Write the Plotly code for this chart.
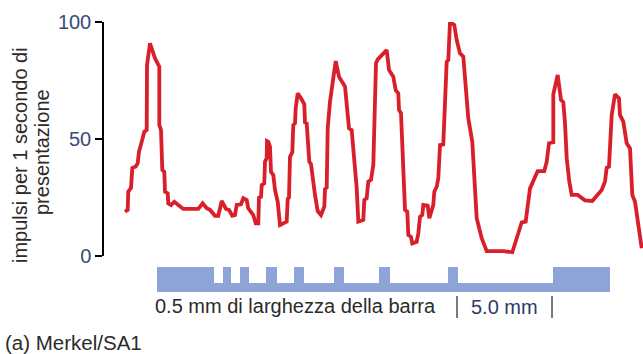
import plotly.graph_objects as go

# Firing rate of a Merkel/SA1 afferent as a grating is scanned across the skin
pos_mm = [
    -1.684, -1.542, -1.511, -1.368, -1.300, -1.121, -1.016, -0.947, -0.805, -0.668,
    -0.542, -0.526, -0.368, -0.105, 0.121, 0.121, 0.211, 0.279, 0.384, 0.421,
    0.563, 0.595, 0.737, 0.911, 1.121, 1.384, 2.174, 2.405, 2.616, 2.789,
    3.053, 3.226, 3.405, 3.632, 3.789, 3.963, 4.105, 4.195, 4.421, 4.542,
    4.721, 4.805, 5.068, 5.195, 5.332, 5.368, 5.474, 5.511, 5.647, 5.684,
    5.774, 5.789, 5.858, 5.947, 6.000, 6.121, 6.211, 6.353, 6.474, 6.826,
    6.879, 6.947, 7.000, 7.121, 7.174, 7.263, 7.300, 7.405, 7.579, 7.753,
    7.789, 7.879, 8.016, 8.105, 8.316, 8.458, 8.632, 8.805, 8.842, 8.932,
    8.984, 9.105, 9.405, 9.579, 9.895, 10.105, 10.247, 10.511, 10.595, 10.858,
    10.911, 11.037, 11.121, 11.263, 11.384, 11.526, 11.616, 12.089, 12.211, 12.437,
    12.563, 12.700, 12.737, 12.842, 13.053, 13.174, 13.226, 13.368, 13.437, 13.668,
    13.753, 13.842, 13.963, 14.016, 14.247, 14.332, 14.542, 14.595, 14.721, 14.805,
    14.895, 15.068, 15.247, 15.332, 15.421, 15.647, 15.774, 15.947, 16.121, 16.300,
    16.384, 16.595, 16.826, 17.089, 17.353, 18.226, 18.700, 19.195, 19.405, 19.632,
    20.037, 20.384, 20.511, 20.632, 20.858, 20.858, 21.089, 21.263, 21.384, 21.474,
    21.563, 21.700, 21.826, 22.142, 22.526, 22.911, 23.405, 23.579, 23.668, 23.789,
    23.932, 24.105, 24.316, 24.368, 24.542, 24.721, 24.895, 25.016, 25.158, 25.511,
]
rate = [
    18.9, 19.7, 27.5, 29.1, 37.6, 38.2, 39.7, 44.6, 48.8, 53.1,
    53.8, 81.6, 90.9, 84.5, 80.9, 56.0, 53.8, 36.8, 36.0, 27.5,
    26.8, 22.5, 21.8, 23.2, 21.8, 20.1, 20.1, 22.5, 20.4, 19.7,
    17.2, 17.2, 23.5, 20.1, 19.7, 17.2, 17.5, 21.8, 22.1, 24.7,
    23.9, 20.4, 17.5, 14.0, 14.0, 24.9, 25.3, 30.3, 31.1, 40.3,
    41.8, 49.1, 48.8, 46.7, 36.0, 34.6, 28.2, 23.2, 13.2, 14.7,
    24.4, 24.9, 42.4, 44.3, 56.0, 56.7, 63.1, 69.5, 67.4, 64.8,
    57.1, 56.7, 40.3, 39.2, 26.1, 19.2, 17.5, 21.1, 28.6, 29.2,
    54.6, 65.9, 83.3, 76.6, 72.4, 54.6, 53.8, 28.9, 14.7, 15.4,
    23.9, 24.7, 31.8, 32.5, 38.9, 82.4, 84.0, 88.0, 79.5, 76.6,
    70.9, 69.5, 62.4, 61.0, 19.7, 18.9, 9.0, 8.2, 5.4, 6.1,
    9.7, 16.8, 17.5, 21.8, 21.5, 16.1, 21.8, 27.5, 29.6, 33.2,
    47.4, 47.7, 83.0, 83.8, 100.0, 98.7, 92.3, 86.6, 85.2, 68.1,
    58.8, 48.8, 16.1, 7.6, 2.1, 2.1, 1.6, 14.4, 14.7, 28.9,
    36.3, 36.3, 40.3, 48.2, 48.6, 69.1, 77.4, 66.7, 65.7, 56.7,
    41.8, 31.8, 26.1, 26.1, 23.8, 23.5, 28.2, 31.8, 37.7, 38.2,
    60.3, 69.1, 67.4, 60.3, 57.4, 48.2, 46.0, 26.1, 23.2, 3.3,
]

# Grating profile: raised bars (start, end in mm) on a continuous base plate
ridge_start_mm = [0.00, 3.47, 4.37, 5.74, 7.21, 9.29, 11.69, 15.30, 20.84]
ridge_end_mm = [3.00, 3.92, 4.84, 6.29, 7.74, 9.84, 12.26, 15.84, 23.84]
plate_start_mm = 0.0
plate_end_mm = 23.84
ridge_height = 1.0
plate_height = 0.36

# 5 mm scale marks
scale_marks_mm = [15.79, 20.79]

y_ticks = [0, 50, 100]

FONT = "Liberation Sans, Arial, sans-serif"
RED = "#d81f2a"
BLUE = "#8ea4d6"
TICK_BLUE = "#3a4a7a"
TEXT = "#2b2b2b"

fig = go.Figure()

fig.add_trace(go.Scatter(
    x=pos_mm, y=rate, mode="lines",
    line=dict(color=RED, width=3.8, shape="linear"),
    cliponaxis=False, hoverinfo="skip", showlegend=False,
))

bar_x = [(plate_start_mm + plate_end_mm) / 2] + [(a + b) / 2 for a, b in zip(ridge_start_mm, ridge_end_mm)]
bar_w = [plate_end_mm - plate_start_mm] + [b - a for a, b in zip(ridge_start_mm, ridge_end_mm)]
bar_h = [plate_height] + [ridge_height] * len(ridge_start_mm)

fig.add_trace(go.Bar(
    x=bar_x, y=bar_h, width=bar_w, base=0, yaxis="y2",
    marker=dict(color=BLUE, line=dict(width=0)),
    hoverinfo="skip", showlegend=False,
))

# Plot area geometry (pixels)
W, H = 643, 354
ML, MR, MT, MB = 104, 0, 22, 59
PW, PH = W - ML - MR, H - MT - MB


def px(xp):
    return (xp - ML) / PW


def py(yp):
    return (H - MB - yp) / PH


shapes = [
    dict(type="line", xref="x", yref="paper", x0=m, x1=m,
         y0=py(296), y1=py(318), line=dict(color="#333333", width=1.3))
    for m in scale_marks_mm
]

annotations = [
    dict(text="impulsi per 1 secondo di", textangle=-90, xref="paper", yref="paper",
         x=px(20), y=py(155), xanchor="center", yanchor="middle", showarrow=False,
         font=dict(family=FONT, size=20, color=TEXT)),
    dict(text="presentazione", textangle=-90, xref="paper", yref="paper",
         x=px(42), y=py(152), xanchor="center", yanchor="middle", showarrow=False,
         font=dict(family=FONT, size=20, color=TEXT)),
    dict(text="0.5 mm di larghezza della barra", xref="paper", yref="paper",
         x=px(153), y=py(306), xanchor="left", yanchor="middle", showarrow=False,
         font=dict(family=FONT, size=20, color=TEXT)),
    dict(text="5.0 mm", xref="x", yref="paper",
         x=sum(scale_marks_mm) / 2, y=py(307), xanchor="center", yanchor="middle",
         showarrow=False, font=dict(family=FONT, size=20, color="#2e3b66")),
    dict(text="(a) Merkel/SA1", xref="paper", yref="paper",
         x=px(3), y=py(342), xanchor="left", yanchor="middle", showarrow=False,
         font=dict(family=FONT, size=20.5, color=TEXT)),
]

fig.update_layout(
    width=W, height=H,
    margin=dict(l=ML, r=MR, t=MT, b=MB, pad=0),
    paper_bgcolor="white", plot_bgcolor="white",
    template="none",
    barmode="overlay", bargap=0,
    showlegend=False,
    xaxis=dict(range=[(ML - 157) / 19, (W - 157) / 19], visible=False, domain=[0, 1]),
    yaxis=dict(
        domain=[py(256), 1], range=[0, 100], tickvals=y_ticks,
        ticks="outside", ticklen=7, tickwidth=1.5, tickcolor="black",
        showline=True, linewidth=1.5, linecolor="black",
        showgrid=False, zeroline=False,
        tickfont=dict(family=FONT, size=20, color=TICK_BLUE),
    ),
    yaxis2=dict(domain=[py(292), py(267)], range=[0, 1], visible=False,
                anchor="x", showgrid=False, zeroline=False),
    shapes=shapes,
    annotations=annotations,
)

fig.write_html("out.html")
